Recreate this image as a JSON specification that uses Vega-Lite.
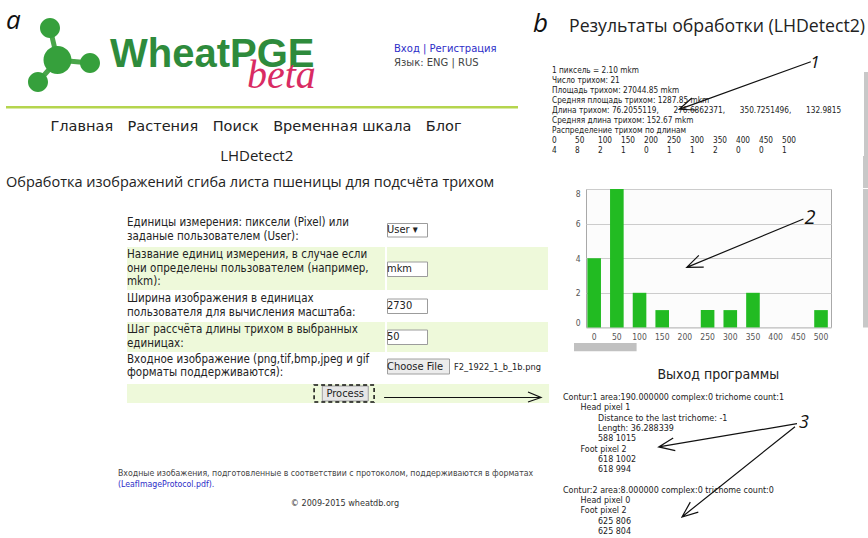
{
"$schema": "https://vega.github.io/schema/vega-lite/v6.json",
"background": "white",
"padding": 0,
"spacing": 0,
"config": {
  "view": {"stroke": null},
  "concat": {"spacing": 0},
  "text": {"font": "DejaVu Sans Condensed, Liberation Sans", "baseline": "middle", "color": "#222222"},
  "axis": {"labelFont": "DejaVu Sans Condensed, Liberation Sans"},
  "axisY": {"tickCount": 5, "labelOverlap": false, "grid": true, "gridColor": "#cccccc"}
},
"datasets": {
  "hist": [
    {"bin": 0, "count": 4}, {"bin": 50, "count": 8}, {"bin": 100, "count": 2}, {"bin": 150, "count": 1},
    {"bin": 200, "count": 0}, {"bin": 250, "count": 1}, {"bin": 300, "count": 1}, {"bin": 350, "count": 2},
    {"bin": 400, "count": 0}, {"bin": 450, "count": 0}, {"bin": 500, "count": 1}
  ]
},
"hconcat": [
 {
  "spacing": 0,
  "vconcat": [
   {"spacing": 0, "bounds": "flush", "hconcat": [
     {"width": 6, "height": 106, "mark": "text", "data": {"values": []}, "encoding": {}},
     {"width": 24, "height": 106, "data": {"values": [{"t": "a"}]},
      "mark": {"type": "text", "align": "left", "font": "Open Sans", "fontStyle": "italic", "fontSize": 26, "color": "#111111"},
      "encoding": {"text": {"field": "t"},
        "x": {"datum": 0, "type": "quantitative", "scale": {"domain": [0, 1]}, "axis": null},
        "y": {"datum": "a", "type": "nominal", "scale": {"type": "point", "align": 0.197}, "axis": null}}},
     {"width": 73, "height": 106, "data": {"values": [{}]}, "layer": [
       {"mark": {"type": "point", "shape": "M-16.5,-25L-9,7M-9,7L23.5,10M-9,7L-28.5,29", "size": 4, "filled": false, "stroke": "#4aa64a", "strokeWidth": 5, "opacity": 1}, "encoding": {}},
       {"mark": {"type": "point", "shape": "M-26.5,-25a10,10 0 1,0 20,0a10,10 0 1,0 -20,0ZM-23,7a14,14 0 1,0 28,0a14,14 0 1,0 -28,0ZM13.5,10a10,10 0 1,0 20,0a10,10 0 1,0 -20,0ZM-38.5,29a10,10 0 1,0 20,0a10,10 0 1,0 -20,0Z", "size": 4, "filled": true, "fill": "#36a03c", "strokeWidth": 0, "opacity": 1}, "encoding": {}}
     ]},
     {"width": 291, "height": 106, "layer": [
       {"data": {"values": [{"t": "WheatPGE", "part": 0}]},
        "mark": {"type": "text", "align": "left", "font": "Liberation Sans", "fontWeight": "bold", "fontSize": 40, "color": "#2e8b3c"},
        "encoding": {"text": {"field": "t"},
          "x": {"field": "part", "type": "quantitative", "scale": {"domain": [-0.0511, 2.073], "nice": false, "zero": false}, "axis": null},
          "y": {"field": "part", "type": "quantitative", "scale": {"domain": [-2.568, 2.408], "reverse": true, "nice": false, "zero": false}, "axis": null}}},
       {"data": {"values": [{"t": "beta", "part": 1}]},
        "mark": {"type": "text", "align": "left", "font": "Liberation Serif", "fontStyle": "italic", "fontSize": 40, "color": "#d92b63"},
        "encoding": {"text": {"field": "t"},
          "x": {"field": "part", "type": "quantitative", "scale": {"domain": [-0.0511, 2.073], "nice": false, "zero": false}, "axis": null},
          "y": {"field": "part", "type": "quantitative", "scale": {"domain": [-2.568, 2.408], "reverse": true, "nice": false, "zero": false}, "axis": null}}}
     ]},
     {"width": 138, "height": 106,
      "data": {"values": [{"line": 0, "t": "Вход | Регистрация", "kind": "link"}, {"line": 1, "t": "Язык: ENG | RUS", "kind": "plain"}]},
      "mark": {"type": "text", "align": "left", "font": "DejaVu Sans", "fontSize": 10},
      "encoding": {"text": {"field": "t"},
        "x": {"datum": 0, "type": "quantitative", "scale": {"domain": [0, 1]}, "axis": null},
        "y": {"field": "line", "type": "quantitative", "scale": {"domain": [-3.562, 4.175], "reverse": true, "nice": false, "zero": false}, "axis": null},
        "color": {"field": "kind", "type": "nominal", "scale": {"domain": ["link", "plain"], "range": ["#2d2dc8", "#444444"]}, "legend": null}}},
     {"width": 16, "height": 106, "data": {"values": [{"t": "b"}]},
      "mark": {"type": "text", "align": "right", "font": "Open Sans", "fontStyle": "italic", "fontSize": 26, "color": "#111111"},
      "encoding": {"text": {"field": "t"},
        "x": {"datum": 1, "type": "quantitative", "scale": {"domain": [0, 1]}, "axis": null},
        "y": {"datum": "b", "type": "nominal", "scale": {"type": "point", "align": 0.2255}, "axis": null}}}
   ]},
   {"spacing": 0, "bounds": "flush", "hconcat": [
     {"width": 6, "height": 2.5, "mark": "text", "data": {"values": []}, "encoding": {}},
     {"width": 512, "height": 2.5, "mark": "text", "data": {"values": []}, "encoding": {}, "view": {"fill": "#b5d54e"}}
   ]},
   {"spacing": 0, "bounds": "flush", "hconcat": [
     {"width": 6, "height": 36.6, "mark": "text", "data": {"values": []}, "encoding": {}},
     {"width": 500, "height": 36.6, "data": {"values": [{"t": "Главная\u2003Растения\u2003Поиск\u2003Временная шкала\u2003Блог"}]},
      "mark": {"type": "text", "font": "DejaVu Sans", "fontSize": 14.5, "color": "#222222"},
      "encoding": {"text": {"field": "t"}}}
   ]},
   {"spacing": 0, "bounds": "flush", "hconcat": [
     {"width": 6, "height": 20, "mark": "text", "data": {"values": []}, "encoding": {}},
     {"width": 501.4, "height": 20, "data": {"values": [{"t": "LHDetect2"}]},
      "mark": {"type": "text", "font": "Open Sans", "fontSize": 15, "color": "#222222"},
      "encoding": {"text": {"field": "t"}}}
   ]},
   {"spacing": 0, "bounds": "flush", "hconcat": [
     {"width": 6, "height": 33.4, "mark": "text", "data": {"values": []}, "encoding": {}},
     {"width": 510, "height": 33.4, "data": {"values": [{"t": "Обработка изображений сгиба листа пшеницы для подсчёта трихом"}]},
      "mark": {"type": "text", "align": "left", "font": "Open Sans", "fontSize": 14.5, "color": "#222222"},
      "encoding": {"text": {"field": "t"}, "x": {"datum": 0, "type": "quantitative", "scale": {"domain": [0, 1]}, "axis": null}}}
   ]},
   {"width": 1, "height": 12.5, "mark": "text", "data": {"values": []}, "encoding": {}},
   {"spacing": 0, "bounds": "flush", "hconcat": [
     {"width": 127, "height": 34, "mark": "text", "data": {"values": []}, "encoding": {}},
     {"width": 258, "height": 34, "data": {"values": [{"line": 0, "t": "Единицы измерения: пиксели (Pixel) или"}, {"line": 1, "t": "заданые пользователем (User):"}]},
      "mark": {"type": "text", "align": "left", "fontSize": 11.5},
      "encoding": {"text": {"field": "t"},
        "x": {"datum": 0, "type": "quantitative", "scale": {"domain": [0, 1]}, "axis": null},
        "y": {"field": "line", "type": "quantitative", "scale": {"domain": [-0.75, 1.75], "reverse": true, "nice": false, "zero": false}, "axis": null}}},
     {"width": 2, "height": 34, "mark": "text", "data": {"values": []}, "encoding": {}},
     {"width": 161, "height": 34, "data": {"values": [{"t": "User ▾"}]}, "layer": [
       {"mark": {"type": "point", "shape": "M0.5,-6.5H40.5V7H0.5Z", "size": 4, "filled": true, "fill": "#ffffff", "stroke": "#9c9c9c", "strokeWidth": 1, "opacity": 1},
        "encoding": {"x": {"datum": 0, "type": "quantitative", "scale": {"domain": [0, 1]}, "axis": null}}},
       {"mark": {"type": "text", "align": "left", "fontSize": 11},
        "encoding": {"text": {"field": "t"}, "x": {"datum": 0, "type": "quantitative", "scale": {"domain": [0, 1]}, "axis": null}}}
     ]}
   ]},
   {"spacing": 0, "bounds": "flush", "hconcat": [
     {"width": 127, "height": 43, "mark": "text", "data": {"values": []}, "encoding": {}},
     {"width": 258, "height": 43, "view": {"fill": "#eef9da"},
      "data": {"values": [{"line": 0, "t": "Название единиц измерения, в случае если"}, {"line": 1, "t": "они определены пользователем (например,"}, {"line": 2, "t": "mkm):"}]},
      "mark": {"type": "text", "align": "left", "fontSize": 11.5},
      "encoding": {"text": {"field": "t"},
        "x": {"datum": 0, "type": "quantitative", "scale": {"domain": [0, 1]}, "axis": null},
        "y": {"field": "line", "type": "quantitative", "scale": {"domain": [-0.581, 2.581], "reverse": true, "nice": false, "zero": false}, "axis": null}}},
     {"width": 2, "height": 43, "mark": "text", "data": {"values": []}, "encoding": {}},
     {"width": 161, "height": 43, "view": {"fill": "#eef9da"}, "data": {"values": [{"t": "mkm"}]}, "layer": [
       {"mark": {"type": "point", "shape": "M0.5,-6.5H40.5V8H0.5Z", "size": 4, "filled": true, "fill": "#ffffff", "stroke": "#9c9c9c", "strokeWidth": 1, "opacity": 1},
        "encoding": {"x": {"datum": 0, "type": "quantitative", "scale": {"domain": [0, 1]}, "axis": null}}},
       {"mark": {"type": "text", "align": "left", "fontSize": 11},
        "encoding": {"text": {"field": "t"}, "x": {"datum": 0, "type": "quantitative", "scale": {"domain": [0, 1]}, "axis": null}}}
     ]}
   ]},
   {"spacing": 0, "bounds": "flush", "hconcat": [
     {"width": 127, "height": 32, "mark": "text", "data": {"values": []}, "encoding": {}},
     {"width": 258, "height": 32, "data": {"values": [{"line": 0, "t": "Ширина изображения в единицах"}, {"line": 1, "t": "пользователя для вычисления масштаба:"}]},
      "mark": {"type": "text", "align": "left", "fontSize": 11.5},
      "encoding": {"text": {"field": "t"},
        "x": {"datum": 0, "type": "quantitative", "scale": {"domain": [0, 1]}, "axis": null},
        "y": {"field": "line", "type": "quantitative", "scale": {"domain": [-0.676, 1.676], "reverse": true, "nice": false, "zero": false}, "axis": null}}},
     {"width": 2, "height": 32, "mark": "text", "data": {"values": []}, "encoding": {}},
     {"width": 161, "height": 32, "data": {"values": [{"t": "2730"}]}, "layer": [
       {"mark": {"type": "point", "shape": "M0.5,-7H40.5V7.5H0.5Z", "size": 4, "filled": true, "fill": "#ffffff", "stroke": "#9c9c9c", "strokeWidth": 1, "opacity": 1},
        "encoding": {"x": {"datum": 0, "type": "quantitative", "scale": {"domain": [0, 1]}, "axis": null}}},
       {"mark": {"type": "text", "align": "left", "fontSize": 11},
        "encoding": {"text": {"field": "t"}, "x": {"datum": 0, "type": "quantitative", "scale": {"domain": [0, 1]}, "axis": null}}}
     ]}
   ]},
   {"spacing": 0, "bounds": "flush", "hconcat": [
     {"width": 127, "height": 30, "mark": "text", "data": {"values": []}, "encoding": {}},
     {"width": 258, "height": 30, "view": {"fill": "#eef9da"}, "data": {"values": [{"line": 0, "t": "Шаг рассчёта длины трихом в выбранных"}, {"line": 1, "t": "единицах:"}]},
      "mark": {"type": "text", "align": "left", "fontSize": 11.5},
      "encoding": {"text": {"field": "t"},
        "x": {"datum": 0, "type": "quantitative", "scale": {"domain": [0, 1]}, "axis": null},
        "y": {"field": "line", "type": "quantitative", "scale": {"domain": [-0.603, 1.603], "reverse": true, "nice": false, "zero": false}, "axis": null}}},
     {"width": 2, "height": 30, "mark": "text", "data": {"values": []}, "encoding": {}},
     {"width": 161, "height": 30, "view": {"fill": "#eef9da"}, "data": {"values": [{"t": "50"}]}, "layer": [
       {"mark": {"type": "point", "shape": "M0.5,-7H40.5V7.5H0.5Z", "size": 4, "filled": true, "fill": "#ffffff", "stroke": "#9c9c9c", "strokeWidth": 1, "opacity": 1},
        "encoding": {"x": {"datum": 0, "type": "quantitative", "scale": {"domain": [0, 1]}, "axis": null}}},
       {"mark": {"type": "text", "align": "left", "fontSize": 11},
        "encoding": {"text": {"field": "t"}, "x": {"datum": 0, "type": "quantitative", "scale": {"domain": [0, 1]}, "axis": null}}}
     ]}
   ]},
   {"spacing": 0, "bounds": "flush", "hconcat": [
     {"width": 127, "height": 29, "mark": "text", "data": {"values": []}, "encoding": {}},
     {"width": 258, "height": 29, "data": {"values": [{"line": 0, "t": "Входное изображение (png,tif,bmp,jpeg и gif"}, {"line": 1, "t": "форматы поддерживаются):"}]},
      "mark": {"type": "text", "align": "left", "fontSize": 11.5},
      "encoding": {"text": {"field": "t"},
        "x": {"datum": 0, "type": "quantitative", "scale": {"domain": [0, 1]}, "axis": null},
        "y": {"field": "line", "type": "quantitative", "scale": {"domain": [-0.566, 1.566], "reverse": true, "nice": false, "zero": false}, "axis": null}}},
     {"width": 2, "height": 29, "mark": "text", "data": {"values": []}, "encoding": {}},
     {"width": 66.6, "height": 29, "data": {"values": [{"t": "Choose File"}]}, "layer": [
       {"mark": {"type": "point", "shape": "M0.5,-7.5H62.5V7.5H0.5Z", "size": 4, "filled": true, "fill": "#ececec", "stroke": "#a0a0a0", "strokeWidth": 1, "opacity": 1},
        "encoding": {"x": {"datum": 0, "type": "quantitative", "scale": {"domain": [0, 1]}, "axis": null}}},
       {"mark": {"type": "text", "align": "left", "fontSize": 11},
        "encoding": {"text": {"field": "t"}, "x": {"datum": 0, "type": "quantitative", "scale": {"domain": [0, 1]}, "axis": null}}}
     ]},
     {"width": 94.4, "height": 29, "data": {"values": [{"t": "F2_1922_1_b_1b.png"}]},
      "mark": {"type": "text", "align": "left", "fontSize": 9.2},
      "encoding": {"text": {"field": "t"}, "x": {"datum": 0, "type": "quantitative", "scale": {"domain": [0, 1]}, "axis": null}}}
   ]},
   {"spacing": 0, "bounds": "flush", "hconcat": [
     {"width": 127, "height": 19, "mark": "text", "data": {"values": []}, "encoding": {}},
     {"width": 194.4, "height": 19, "mark": "text", "data": {"values": []}, "encoding": {}, "view": {"fill": "#eef9da"}},
     {"width": 46.5, "height": 19, "view": {"fill": "#eef9da"}, "data": {"values": [{"t": "Process"}]}, "layer": [
       {"mark": {"type": "point", "shape": "M-23,-7.5H23V7.5H-23Z", "size": 4, "filled": true, "fill": "#e6e6e6", "stroke": "#9d9d9d", "strokeWidth": 1, "opacity": 1}, "encoding": {}},
       {"mark": {"type": "text", "fontSize": 11}, "encoding": {"text": {"field": "t"}}}
     ]},
     {"width": 180.1, "height": 19, "view": {"fill": "#eef9da"}, "data": {"values": [{}]}, "layer": [
       {"mark": {"type": "point", "shape": "M-54.9,-8.6H5.1V8.6H-54.9Z", "size": 4, "filled": false, "stroke": "#111111", "strokeWidth": 1.5, "strokeDash": [4, 3], "opacity": 1},
        "encoding": {"x": {"datum": 0, "type": "quantitative", "scale": {"domain": [0, 1]}, "axis": null}}},
       {"mark": {"type": "point", "shape": "M15.1,4H172M159,-1.5L172,4L159,8.5", "size": 4, "filled": false, "stroke": "#111111", "strokeWidth": 1.2, "opacity": 1},
        "encoding": {"x": {"datum": 0, "type": "quantitative", "scale": {"domain": [0, 1]}, "axis": null}}}
     ]}
   ]},
   {"width": 1, "height": 61, "mark": "text", "data": {"values": []}, "encoding": {}},
   {"spacing": 0, "bounds": "flush", "hconcat": [
     {"width": 118, "height": 22, "mark": "text", "data": {"values": []}, "encoding": {}},
     {"width": 428, "height": 22,
      "data": {"values": [{"line": 0, "t": "Входные изобажения, подготовленные в соответствии с протоколом, поддерживаются в форматах", "kind": "plain"}, {"line": 1, "t": "(LeafImageProtocol.pdf).", "kind": "link"}]},
      "mark": {"type": "text", "align": "left", "fontSize": 8.7},
      "encoding": {"text": {"field": "t"},
        "x": {"datum": 0, "type": "quantitative", "scale": {"domain": [0, 1]}, "axis": null},
        "y": {"field": "line", "type": "ordinal", "axis": null},
        "color": {"field": "kind", "type": "nominal", "scale": {"domain": ["link", "plain"], "range": ["#2d2dc8", "#333333"]}, "legend": null}}}
   ]},
   {"spacing": 0, "bounds": "flush", "hconcat": [
     {"width": 142, "height": 27.6, "mark": "text", "data": {"values": []}, "encoding": {}},
     {"width": 406, "height": 27.6, "data": {"values": [{"t": "© 2009-2015 wheatdb.org"}]},
      "mark": {"type": "text", "fontSize": 9, "color": "#333333"}, "encoding": {"text": {"field": "t"}}}
   ]}
  ]
 },
 {
  "spacing": 0,
  "vconcat": [
   {"spacing": 0, "bounds": "flush", "hconcat": [
     {"width": 19, "height": 54, "mark": "text", "data": {"values": []}, "encoding": {}},
     {"width": 241, "height": 54, "data": {"values": [{"t": "Результаты обработки (LHDetect2)"}]},
      "mark": {"type": "text", "align": "left", "font": "Open Sans", "fontSize": 17.7, "color": "#222222"},
      "encoding": {"text": {"field": "t"}, "x": {"datum": 0, "type": "quantitative", "scale": {"domain": [0, 1]}, "axis": null}}}
   ]},
   {"spacing": 0, "bounds": "flush", "hconcat": [
     {"width": 1.5, "height": 82, "mark": "text", "data": {"values": []}, "encoding": {}},
     {"width": 262, "height": 82,
      "data": {"values": [
        {"line": 0, "t": "1 пиксель = 2.10 mkm"},
        {"line": 1, "t": "Число трихом: 21"},
        {"line": 2, "t": "Площадь трихом: 27044.85 mkm"},
        {"line": 3, "t": "Средняя площадь трихом: 1287.85 mkm"},
        {"line": 4, "t": "Длина трихом: 76.2055119,\u2003\u2003276.6862371,\u2003\u2003350.7251496,\u2003\u2003132.9815"},
        {"line": 5, "t": "Средняя длина трихом: 152.67 mkm"},
        {"line": 6, "t": "Распределение трихом по длинам"}
      ]},
      "mark": {"type": "text", "align": "left", "fontSize": 8.2},
      "encoding": {"text": {"field": "t"},
        "x": {"datum": 0, "type": "quantitative", "scale": {"domain": [0, 1]}, "axis": null},
        "y": {"field": "line", "type": "quantitative", "scale": {"domain": [-1.7, 6.5], "reverse": true, "nice": false, "zero": false}, "axis": null}}},
     {"width": 49.5, "height": 82, "data": {"values": [{"t": "1"}]},
      "encoding": {
        "x": {"datum": "1", "type": "nominal", "scale": {"type": "point", "align": 0.0202}, "axis": null},
        "y": {"datum": "1", "type": "nominal", "scale": {"type": "point", "align": 0.11}, "axis": null}},
      "layer": [
        {"mark": {"type": "text", "font": "Open Sans", "fontStyle": "italic", "fontSize": 17, "color": "#111111"}, "encoding": {"text": {"field": "t"}}},
        {"mark": {"type": "point", "shape": "M-4.2,-1.3L-135.8,46.3M-118.8,47L-135.8,46.3L-123.1,35", "size": 4, "filled": false, "stroke": "#111111", "strokeWidth": 1.2, "opacity": 1}}
      ]},
     {"width": 7, "height": 82, "data": {"values": [{}]},
      "mark": {"type": "point", "shape": "M-3.5,-23H3.5V41H-3.5Z", "size": 4, "filled": true, "fill": "#c8c8c8", "strokeWidth": 0, "opacity": 1}, "encoding": {}}
   ]},
   {"spacing": 0, "bounds": "flush", "hconcat": [
     {"width": 1.5, "height": 20, "mark": "text", "data": {"values": []}, "encoding": {}},
     {"width": 230, "height": 20, "data": {"name": "hist"}, "layer": [
       {"mark": {"type": "text", "align": "left", "fontSize": 8.2},
        "encoding": {"text": {"field": "bin", "type": "nominal"},
          "x": {"field": "bin", "type": "ordinal", "scale": {"type": "point", "padding": 0, "align": 0}, "axis": null},
          "y": {"datum": "bins", "type": "nominal", "scale": {"domain": ["bins", "counts"]}, "axis": null}}},
       {"mark": {"type": "text", "align": "left", "fontSize": 8.2},
        "encoding": {"text": {"field": "count", "type": "nominal"},
          "x": {"field": "bin", "type": "ordinal", "scale": {"type": "point", "padding": 0, "align": 0}, "axis": null},
          "y": {"datum": "counts", "type": "nominal", "scale": {"domain": ["bins", "counts"]}, "axis": null}}}
     ]},
     {"width": 81.5, "height": 20, "mark": "text", "data": {"values": []}, "encoding": {}},
     {"width": 7, "height": 20, "mark": "text", "data": {"values": []}, "encoding": {}, "view": {"fill": "#c8c8c8"}}
   ]},
   {"spacing": 0, "bounds": "flush", "hconcat": [
     {"width": 313, "height": 32, "mark": "text", "data": {"values": []}, "encoding": {}},
     {"width": 7, "height": 32, "mark": "text", "data": {"values": []}, "encoding": {}, "view": {"fill": "#c8c8c8"}}
   ]},
   {"spacing": 0, "bounds": "flush", "hconcat": [
     {"width": 36, "height": 153.7, "mark": "text", "data": {"values": []}, "encoding": {}},
     {"width": 245, "height": 138.4, "data": {"name": "hist"}, "view": {"fill": "#fcfcfc", "stroke": "#a9a9a9"}, "layer": [
       {"mark": {"type": "bar", "color": "#22bb22"},
        "encoding": {
          "x": {"field": "bin", "type": "ordinal", "scale": {"paddingInner": 0.4, "paddingOuter": 0.1, "align": 0.3},
                "axis": {"title": null, "labelAngle": 0, "ticks": false, "domain": false, "grid": false, "labelPadding": 5.5, "labelFontSize": 8.5, "labelColor": "#555555"}},
          "y": {"field": "count", "type": "quantitative", "scale": {"domain": [0, 8], "nice": false},
                "axis": {"title": null, "tickCount": 5, "ticks": false, "domain": false, "grid": true, "gridColor": "#cccccc", "labelPadding": 6, "labelFontSize": 8.5, "labelColor": "#555555", "labelOverlap": false, "labelFlush": true, "labelFlushOffset": 0}}}},
       {"data": {"values": [{"t": "2"}]},
        "mark": {"type": "text", "font": "Open Sans", "fontStyle": "italic", "fontSize": 20, "color": "#111111"},
        "encoding": {
          "x": {"datum": 450, "type": "ordinal", "bandPosition": 1.36},
          "y": {"datum": 6.3, "type": "quantitative"},
          "text": {"field": "t"}}},
       {"data": {"values": [{}]},
        "mark": {"type": "point", "shape": "M-6.6,0.6L-123.3,49M-106.3,48.8L-123.3,49L-111.2,37", "size": 4, "filled": false, "stroke": "#111111", "strokeWidth": 1.2, "opacity": 1},
        "encoding": {
          "x": {"datum": 450, "type": "ordinal", "bandPosition": 1.36},
          "y": {"datum": 6.3, "type": "quantitative"}}}
     ]},
     {"width": 32, "height": 1, "mark": "text", "data": {"values": []}, "encoding": {}},
     {"width": 7, "height": 138.4, "mark": "text", "data": {"values": []}, "encoding": {}, "view": {"fill": "#c8c8c8"}}
   ]},
   {"spacing": 0, "bounds": "flush", "hconcat": [
     {"width": 23.7, "height": 8.3, "mark": "text", "data": {"values": []}, "encoding": {}},
     {"width": 62.6, "height": 8.3, "mark": "text", "data": {"values": []}, "encoding": {}, "view": {"fill": "#c1c1c1"}}
   ]},
   {"width": 1, "height": 13, "mark": "text", "data": {"values": []}, "encoding": {}},
   {"spacing": 0, "bounds": "flush", "hconcat": [
     {"width": 100, "height": 20.2, "mark": "text", "data": {"values": []}, "encoding": {}},
     {"width": 136.6, "height": 20.2, "data": {"values": [{"t": "Выход программы"}]},
      "mark": {"type": "text", "fontSize": 14, "color": "#222222"}, "encoding": {"text": {"field": "t"}}}
   ]},
   {"width": 1, "height": 6, "mark": "text", "data": {"values": []}, "encoding": {}},
   {"spacing": 0, "bounds": "flush", "hconcat": [
     {"width": 13, "height": 144.2, "mark": "text", "data": {"values": []}, "encoding": {}},
     {"width": 35, "height": 144.2,
      "data": {"values": [
        {"line": 0, "level": 0, "t": "Contur:1 area:190.000000 complex:0 trichome count:1"},
        {"line": 1, "level": 1, "t": "Head pixel 1"},
        {"line": 2, "level": 2, "t": "Distance to the last trichome: -1"},
        {"line": 3, "level": 2, "t": "Length: 36.288339"},
        {"line": 4, "level": 2, "t": "588 1015"},
        {"line": 5, "level": 1, "t": "Foot pixel 2"},
        {"line": 6, "level": 2, "t": "618 1002"},
        {"line": 7, "level": 2, "t": "618 994"},
        {"line": 8, "level": 0, "t": ""},
        {"line": 9, "level": 0, "t": "Contur:2 area:8.000000 complex:0 trichome count:0"},
        {"line": 10, "level": 1, "t": "Head pixel 0"},
        {"line": 11, "level": 1, "t": "Foot pixel 2"},
        {"line": 12, "level": 2, "t": "625 806"},
        {"line": 13, "level": 2, "t": "625 804"}
      ]},
      "mark": {"type": "text", "align": "left", "fontSize": 8.9},
      "encoding": {"text": {"field": "t"},
        "x": {"field": "level", "type": "quantitative", "scale": {"domain": [0, 2], "nice": false}, "axis": null},
        "y": {"field": "line", "type": "ordinal", "axis": null}}},
     {"width": 205, "height": 144.2, "mark": "text", "data": {"values": []}, "encoding": {}},
     {"width": 2, "height": 144.2, "data": {"values": [{"t": "3"}]},
      "encoding": {"y": {"datum": "3", "type": "nominal", "scale": {"type": "point", "align": 0.2126}, "axis": null}},
      "layer": [
        {"mark": {"type": "text", "font": "Open Sans", "fontStyle": "italic", "fontSize": 18, "color": "#111111"}, "encoding": {"text": {"field": "t"}}},
        {"mark": {"type": "point", "shape": "M-7,1L-145.3,24.3M-128.7,28L-145.3,24.3L-130.8,15.4M-9,4L-122,94.3M-105.7,89.5L-122,94.3L-113.7,79.5", "size": 4, "filled": false, "stroke": "#111111", "strokeWidth": 1.2, "opacity": 1}}
      ]}
   ]}
  ]
 }
]
}
